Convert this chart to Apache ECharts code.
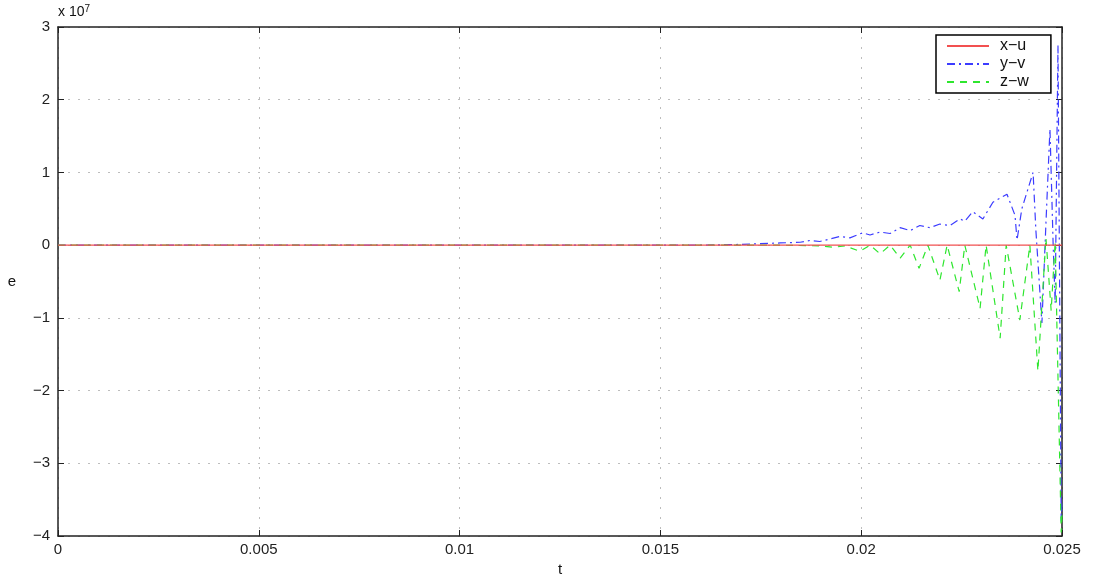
<!DOCTYPE html>
<html>
<head>
<meta charset="utf-8">
<script src="https://cdn.jsdelivr.net/npm/echarts@6/dist/echarts.min.js"></script>
<style>
  html, body { margin: 0; padding: 0; background: #fff; }
  #chart { width: 1098px; height: 582px; }
</style>
</head>
<body>
<div id="chart"></div>
<script>
// values in units of 1e7
const xTicks = [0, 0.005, 0.01, 0.015, 0.02, 0.025];

const tX = [0, 0.025];
const xu = [0, 0];

const tY = [0, 0.01599, 0.01698, 0.01798, 0.01848, 0.01873, 0.01897, 0.01947, 0.01972, 0.02004,
  0.02022, 0.02047, 0.02072, 0.02097, 0.02122, 0.02146, 0.02171, 0.02196, 0.02221, 0.02246,
  0.02258, 0.02278, 0.02303, 0.02328, 0.02363, 0.02383, 0.02388, 0.02400, 0.02428, 0.02435,
  0.02450, 0.02460, 0.02470, 0.02478, 0.02483, 0.02490, 0.02498, 0.02500];
const yv = [0, 0, 0.01, 0.03, 0.04, 0.065, 0.05, 0.12, 0.10, 0.17,
  0.14, 0.18, 0.16, 0.24, 0.20, 0.27, 0.24, 0.29, 0.27, 0.36,
  0.33, 0.46, 0.36, 0.59, 0.70, 0.41, 0.07, 0.50, 1.00, 0.20,
  -1.07, 0.30, 1.60, 0.00, -0.80, 2.75, -3.80, -3.50];

const tZ = [0, 0.01599, 0.01798, 0.01897, 0.0193, 0.0196, 0.01997, 0.02022, 0.02047, 0.02072,
  0.02097, 0.02122, 0.02144, 0.02166, 0.02196, 0.02214, 0.02244, 0.02258, 0.02296, 0.02311,
  0.02346, 0.02361, 0.02395, 0.02420, 0.02440, 0.02460, 0.02473, 0.02483, 0.02498, 0.02500];
const zw = [0, 0, 0, -0.01, -0.03, -0.01, -0.085, 0, -0.12, 0,
  -0.18, 0, -0.32, 0, -0.48, 0, -0.64, 0, -0.87, 0,
  -1.28, 0, -1.03, 0, -1.73, 0.1, -0.9, 0.05, -3.95, -3.7];

function zip(a, b){ return a.map((t, i) => [t, b[i]]); }

const chart = echarts.init(document.getElementById('chart'), null, { renderer: 'canvas' });
const font = 'Liberation Sans, Arial, sans-serif';
const gridLine = { show: true, lineStyle: { color: '#bdbdbd', type: [2, 8], width: 1 } };
const minus = v => String(v).replace('-', '\u2212');

chart.setOption({
  animation: false,
  backgroundColor: '#fff',
  grid: { left: 58, right: 36, top: 27, bottom: 42, containLabel: false },
  legend: {
    orient: 'vertical',
    left: 936, top: 35,
    backgroundColor: '#fff',
    borderColor: '#000', borderWidth: 1.5,
    padding: [3, 22, 3, 10],
    itemGap: 2, itemWidth: 42, itemHeight: 12,
    itemStyle: { opacity: 0 },
    textStyle: { fontFamily: font, fontSize: 16, color: '#111', padding: [0, 0, 0, 6] },
    data: ['x\u2212u', 'y\u2212v', 'z\u2212w']
  },
  graphic: [{
    type: 'text', left: 58, top: 4,
    style: {
      text: '{a|x 10}{b|7}',
      rich: {
        a: { fontFamily: font, fontSize: 14, fill: '#111' },
        b: { fontFamily: font, fontSize: 10, fill: '#111', verticalAlign: 'top', padding: [0, 0, 6, 0] }
      }
    }
  }],
  xAxis: [{
    type: 'value', min: 0, max: 0.025, interval: 0.005,
    name: 't', nameLocation: 'middle', nameGap: 26,
    nameTextStyle: { fontFamily: font, fontSize: 15, color: '#111' },
    axisLine: { show: true, onZero: false, lineStyle: { color: '#222', width: 1.5 } },
    axisTick: { show: true, inside: true, length: 6, lineStyle: { color: '#222' } },
    axisLabel: { fontFamily: font, fontSize: 15, color: '#222', margin: 6,
      formatter: v => xTicks.indexOf(v) >= 0 ? String(v) : '' },
    splitLine: gridLine
  }, {
    type: 'value', position: 'top', min: 0, max: 0.025, interval: 0.005,
    axisLine: { show: true, onZero: false, lineStyle: { color: '#222', width: 1.5 } },
    axisTick: { show: true, inside: true, length: 6, lineStyle: { color: '#222' } },
    axisLabel: { show: false }, splitLine: { show: false }
  }],
  yAxis: [{
    type: 'value', min: -4, max: 3, interval: 1,
    name: 'e', nameLocation: 'middle', nameGap: 42, nameRotate: 0,
    nameTextStyle: { fontFamily: font, fontSize: 15, color: '#111' },
    axisLine: { show: true, onZero: false, lineStyle: { color: '#222', width: 1.5 } },
    axisTick: { show: true, inside: true, length: 6, lineStyle: { color: '#222' } },
    axisLabel: { fontFamily: font, fontSize: 15, color: '#222', margin: 8, formatter: minus },
    splitLine: gridLine
  }, {
    type: 'value', position: 'right', min: -4, max: 3, interval: 1,
    axisLine: { show: true, onZero: false, lineStyle: { color: '#222', width: 1.5 } },
    axisTick: { show: true, inside: true, length: 6, lineStyle: { color: '#222' } },
    axisLabel: { show: false }, splitLine: { show: false }
  }],
  series: [{
    name: 'x\u2212u', type: 'line', symbol: 'none', z: 3,
    data: zip(tX, xu),
    lineStyle: { color: '#f25050', width: 1.2 }, itemStyle: { color: '#f25050' }
  }, {
    name: 'y\u2212v', type: 'line', symbol: 'none', z: 2,
    data: zip(tY, yv),
    lineStyle: { color: '#3c3cff', width: 1.2, type: [8, 4, 2, 4] }, itemStyle: { color: '#3c3cff' }
  }, {
    name: 'z\u2212w', type: 'line', symbol: 'none', z: 2,
    data: zip(tZ, zw),
    lineStyle: { color: '#2ee62e', width: 1.2, type: [7, 6] }, itemStyle: { color: '#2ee62e' }
  }]
});
</script>
</body>
</html>
